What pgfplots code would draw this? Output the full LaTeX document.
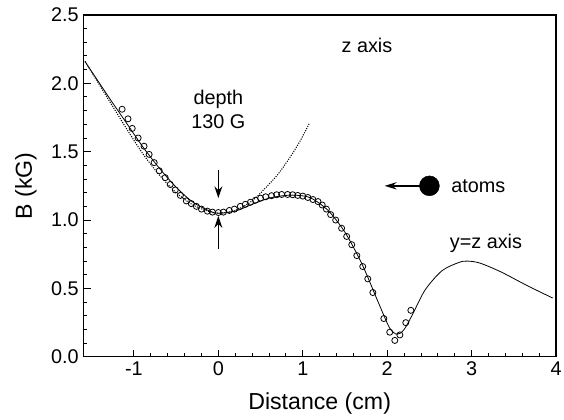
\documentclass[border=0pt]{standalone}
\usepackage{fontspec}
\setmainfont{Liberation Sans}
\usepackage{pgfplots}
\pgfplotsset{compat=1.18}
\usetikzlibrary{arrows.meta}

\begin{document}
\begin{tikzpicture}
  \begin{axis}[
      name=ax,
      scale only axis,
      width=357.75pt, height=258.75pt,
      xmin=-1.6, xmax=4, ymin=0, ymax=2.5,
      xtick={-1,0,1,2,3,4}, ytick={0,0.5,1,1.5,2,2.5},
      minor x tick num=4, minor y tick num=4,
      yticklabel style={/pgf/number format/.cd, fixed, fixed zerofill, precision=1},
      /pgf/number format/assume math mode=true,
      tick label style={font=\fontsize{15}{18}\selectfont},
      axis x line*=bottom, axis y line*=left,
      axis line style={line width=1pt, -},
      tick style={black, line width=0.7pt},
      major tick length=5.5pt, minor tick length=3pt,
      tick align=inside,
      xlabel={Distance (cm)}, ylabel={B (kG)},
      label style={font=\fontsize{17.5}{21}\selectfont},
      xlabel style={yshift=-6pt},
      ylabel style={yshift=4pt},
      clip=false,
    ]
    % upper and right border without ticks
    \draw[line width=1pt] (axis cs:-1.6,2.5) -- (axis cs:4,2.5) -- (axis cs:4,0);

    % y=z axis (solid)
    \addplot[black, line width=0.6pt, smooth, tension=0.5] coordinates {
      (-1.58,2.16) (-1.3,1.90) (-1.1,1.72) (-0.9,1.54) (-0.7,1.38)
      (-0.5,1.24) (-0.3,1.13) (-0.1,1.065) (0,1.05) (0.2,1.065)
      (0.4,1.115) (0.6,1.16) (0.8,1.18) (0.95,1.18) (1.1,1.16)
      (1.3,1.07) (1.5,0.91) (1.7,0.68) (1.9,0.39) (2.03,0.21)
      (2.12,0.165) (2.2,0.20) (2.3,0.31) (2.45,0.49) (2.65,0.63)
      (2.85,0.69) (2.95,0.70) (3.1,0.685) (3.35,0.62) (3.66,0.52)
      (3.96,0.43)};

    % z axis (dotted)
    \addplot[black, line width=0.8pt, densely dotted, smooth, tension=0.5] coordinates {
      (-1.58,2.16) (-1.3,1.88) (-1.1,1.68) (-0.9,1.49) (-0.7,1.33)
      (-0.5,1.20) (-0.3,1.11) (-0.1,1.06) (0,1.05) (0.2,1.07)
      (0.4,1.14) (0.55,1.23) (0.7,1.33) (0.85,1.46) (0.97,1.58)
      (1.08,1.71)};

    % measured points
    \addplot[only marks, mark=o, mark size=2.3pt, mark options={line width=0.6pt}] coordinates {
      (-1.14,1.81) (-1.07,1.74) (-1.02,1.67) (-0.95,1.60) (-0.88,1.54)
      (-0.82,1.48) (-0.76,1.42) (-0.70,1.36) (-0.63,1.31) (-0.57,1.26)
      (-0.51,1.22) (-0.45,1.18) (-0.38,1.14) (-0.32,1.12) (-0.26,1.10)
      (-0.20,1.08) (-0.13,1.065) (-0.07,1.058) (0.00,1.055) (0.06,1.058)
      (0.13,1.07) (0.19,1.08) (0.26,1.10) (0.32,1.115) (0.38,1.13)
      (0.44,1.145) (0.50,1.16) (0.56,1.17) (0.63,1.178) (0.69,1.185)
      (0.75,1.187) (0.82,1.187) (0.88,1.185) (0.94,1.18) (1.00,1.175)
      (1.06,1.165) (1.12,1.15) (1.18,1.135) (1.23,1.11) (1.28,1.08)
      (1.33,1.04) (1.39,1.00) (1.46,0.94) (1.52,0.88) (1.58,0.82)
      (1.64,0.74) (1.71,0.66) (1.77,0.57) (1.83,0.47) (1.96,0.28)
      (2.03,0.18) (2.09,0.12) (2.15,0.16) (2.22,0.25) (2.28,0.34)};

    % atom
    \addplot[only marks, mark=*, mark size=7.5pt, black] coordinates {(2.50,1.25)};
    \draw[-{Stealth[length=9pt,width=5.5pt]}, line width=1pt]
      (axis cs:2.40,1.25) -- (axis cs:1.97,1.25);

    \node[font=\fontsize{15}{18}\selectfont] at (axis cs:3.08,1.245) {atoms};
    \node[font=\fontsize{15}{18}\selectfont] at (axis cs:3.17,0.83) {y=z axis};
    \node[font=\fontsize{15}{18}\selectfont] at (axis cs:1.76,2.28) {z axis};
    \node[font=\fontsize{15}{18}\selectfont, align=center] at (axis cs:0,1.81)
      {depth\\[0pt]130 G};

    \draw[-{Stealth[length=9pt,width=6pt]}, line width=0.9pt]
      (axis cs:0,1.365) -- (axis cs:0,1.16);
    \draw[-{Stealth[length=9pt,width=6pt]}, line width=0.9pt]
      (axis cs:0,0.785) -- (axis cs:0,1.03);
  \end{axis}
  \pgfresetboundingbox
  \path ([xshift=-63pt,yshift=-47.25pt]ax.south west)
    rectangle ([xshift=6pt,yshift=11.25pt]ax.north east);
\end{tikzpicture}
\end{document}
